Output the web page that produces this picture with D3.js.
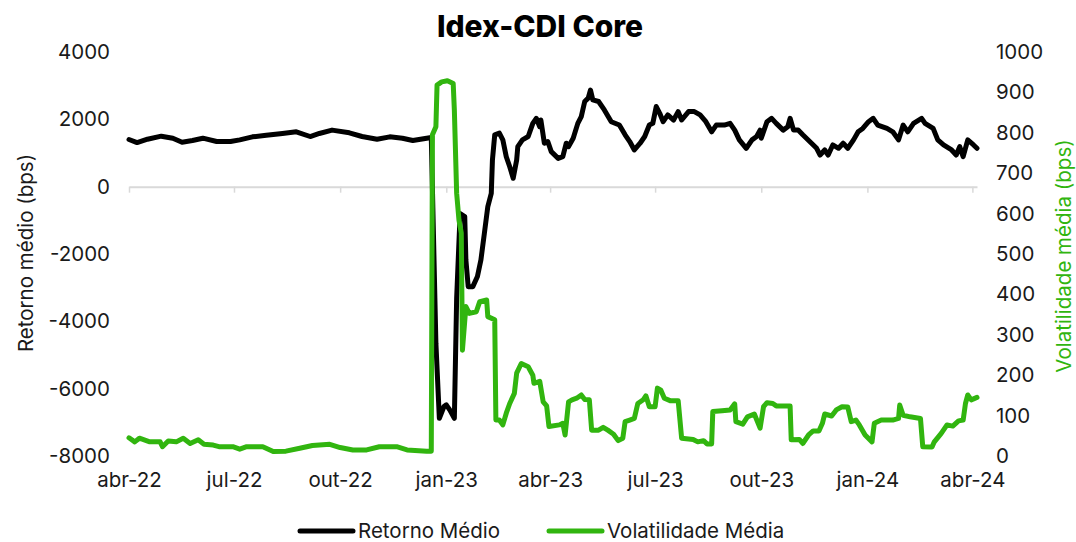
<!DOCTYPE html>
<html>
<head>
<meta charset="utf-8">
<script src="https://cdn.jsdelivr.net/npm/d3@7"></script>
<style>
  body { margin: 0; background: #fff; }
  text { font-family: Inter, 'Open Sans', sans-serif; }
</style>
</head>
<body>
<div id="chart"></div>
<script>
// Retorno Médio (bps) - eixo esquerdo
const retornoDates = [
  '2022-04-01','2022-04-08','2022-04-17','2022-04-29','2022-05-09','2022-05-17','2022-05-26','2022-06-04',
  '2022-06-16','2022-06-28','2022-07-06','2022-07-17','2022-07-29','2022-08-12','2022-08-24','2022-09-05',
  '2022-09-13','2022-09-24','2022-10-09','2022-10-20','2022-11-02','2022-11-13','2022-11-24','2022-12-03',
  '2022-12-15','2022-12-19','2022-12-23','2022-12-26','2022-12-30','2023-01-01','2023-01-04','2023-01-08',
  '2023-01-10','2023-01-13','2023-01-17','2023-01-18','2023-01-20','2023-01-24','2023-01-28','2023-01-31',
  '2023-02-03','2023-02-06','2023-02-09','2023-02-10','2023-02-12','2023-02-16','2023-02-19','2023-02-22',
  '2023-02-25','2023-02-28','2023-03-03','2023-03-04','2023-03-08','2023-03-13','2023-03-17','2023-03-20',
  '2023-03-23','2023-03-24','2023-03-27','2023-03-30','2023-04-02','2023-04-08','2023-04-12','2023-04-15',
  '2023-04-17','2023-04-21','2023-04-25','2023-04-28','2023-05-01','2023-05-04','2023-05-06','2023-05-08',
  '2023-05-13','2023-05-18','2023-05-24','2023-05-31','2023-06-05','2023-06-09','2023-06-13','2023-06-18',
  '2023-06-22','2023-06-26','2023-06-29','2023-07-02','2023-07-05','2023-07-08','2023-07-12','2023-07-17',
  '2023-07-21','2023-07-24','2023-07-30','2023-08-04','2023-08-09','2023-08-14','2023-08-19','2023-08-23',
  '2023-08-30','2023-09-04','2023-09-08','2023-09-12','2023-09-18','2023-09-23','2023-09-27','2023-09-30',
  '2023-10-01','2023-10-06','2023-10-10','2023-10-14','2023-10-20','2023-10-24','2023-10-26','2023-10-29',
  '2023-11-02','2023-11-06','2023-11-12','2023-11-18','2023-11-21','2023-11-25','2023-11-28','2023-12-02',
  '2023-12-07','2023-12-11','2023-12-15','2023-12-20','2023-12-24','2023-12-28','2024-01-02','2024-01-06',
  '2024-01-10','2024-01-18','2024-01-23','2024-01-28','2024-02-01','2024-02-05','2024-02-10','2024-02-17',
  '2024-02-20','2024-02-27','2024-03-02','2024-03-07','2024-03-14','2024-03-18','2024-03-21','2024-03-24',
  '2024-03-28','2024-04-02','2024-04-05'
];
const retornoValues = [
  1400, 1310, 1410, 1500, 1440, 1320, 1370, 1440,
  1340, 1340, 1390, 1480, 1530, 1580, 1630, 1490,
  1580, 1680, 1600, 1490, 1410, 1480, 1440, 1370,
  1440, 1460, -4650, -6880, -6530, -6480, -6630, -6880,
  -3300, -800, -890, -2180, -2970, -2970, -2670, -2180,
  -1390, -590, -200, 790, 1540, 1590, 1390, 890,
  590, 250, 790, 1190, 1390, 1490, 1880, 2030,
  1780, 1980, 1290, 1340, 1040, 840, 890, 1290,
  1190, 1440, 1880, 2080, 2530, 2630, 2870, 2580,
  2530, 2280, 1930, 1830, 1540, 1340, 1090, 1290,
  1490, 1830, 1880, 2380, 2180, 1930, 2130, 1980,
  2230, 1980, 2230, 2230, 2130, 1930, 1630, 1830,
  1830, 1880, 1680, 1390, 1140, 1390, 1490, 1680,
  1440, 1930, 2030, 1880, 1680, 1780, 2030, 1680,
  1680, 1540, 1340, 1140, 940, 1090, 940, 1240,
  1140, 1290, 1140, 1390, 1630, 1730, 1930, 2030,
  1830, 1730, 1630, 1390, 1830, 1630, 1880, 2030,
  1880, 1730, 1390, 1240, 1090, 940, 1190, 890,
  1390, 1240, 1140
];

// Volatilidade Média (bps) - eixo direito
const volDates = [
  '2022-04-01','2022-04-06','2022-04-10','2022-04-19','2022-04-28','2022-04-30','2022-05-05','2022-05-12',
  '2022-05-18','2022-05-24','2022-05-31','2022-06-05','2022-06-13','2022-06-18','2022-06-30','2022-07-06',
  '2022-07-12','2022-07-26','2022-08-04','2022-08-15','2022-08-27','2022-09-07','2022-09-22','2022-10-01',
  '2022-10-12','2022-10-24','2022-11-04','2022-11-19','2022-11-28','2022-12-15','2022-12-19','2022-12-20',
  '2022-12-23','2022-12-24','2022-12-28','2023-01-02','2023-01-07','2023-01-08','2023-01-10','2023-01-12',
  '2023-01-14','2023-01-15','2023-01-18','2023-01-21','2023-01-27','2023-01-30','2023-02-05','2023-02-06',
  '2023-02-12','2023-02-13','2023-02-16','2023-02-19','2023-02-22','2023-02-25','2023-03-01','2023-03-03',
  '2023-03-07','2023-03-13','2023-03-17','2023-03-18','2023-03-23','2023-03-26','2023-03-29','2023-03-31',
  '2023-04-09','2023-04-12','2023-04-14','2023-04-17','2023-04-20','2023-04-24','2023-04-28','2023-05-01',
  '2023-05-05','2023-05-07','2023-05-13','2023-05-17','2023-05-21','2023-05-26','2023-05-30','2023-06-03',
  '2023-06-05','2023-06-09','2023-06-13','2023-06-16','2023-06-21','2023-06-23','2023-06-26','2023-07-01',
  '2023-07-03','2023-07-06','2023-07-09','2023-07-14','2023-07-21','2023-07-24','2023-08-03','2023-08-07',
  '2023-08-12','2023-08-15','2023-08-19','2023-08-20','2023-08-28','2023-09-04','2023-09-08','2023-09-09',
  '2023-09-15','2023-09-19','2023-09-25','2023-09-30','2023-10-03','2023-10-06','2023-10-11','2023-10-14',
  '2023-10-26','2023-10-27','2023-11-03','2023-11-06','2023-11-11','2023-11-15','2023-11-20','2023-11-23',
  '2023-11-25','2023-12-01','2023-12-05','2023-12-10','2023-12-15','2023-12-18','2023-12-22','2023-12-25',
  '2023-12-30','2024-01-05','2024-01-07','2024-01-13','2024-01-23','2024-01-28','2024-01-29','2024-02-01',
  '2024-02-07','2024-02-16','2024-02-18','2024-02-26','2024-02-28','2024-03-05','2024-03-10','2024-03-15',
  '2024-03-20','2024-03-24','2024-03-26','2024-03-28','2024-03-31','2024-04-05'
];
const volValues = [
  45, 35, 44, 35, 35, 23, 37, 35,
  44, 31, 40, 29, 27, 23, 23, 17,
  23, 23, 11, 12, 19, 26, 29, 21,
  15, 15, 23, 23, 15, 12, 12, 795,
  815, 918, 926, 929, 922, 856, 650, 584,
  552, 262, 370, 353, 357, 382, 386, 345,
  337, 89, 89, 77, 106, 130, 155, 205,
  229, 221, 200, 180, 185, 134, 124, 73,
  77, 81, 52, 134, 139, 143, 151, 140,
  139, 64, 64, 71, 64, 54, 38, 44,
  85, 89, 93, 130, 140, 149, 122, 122,
  168, 163, 143, 137, 137, 44, 41, 35,
  38, 30, 30, 110, 112, 114, 129, 85,
  79, 97, 104, 69, 122, 132, 130, 124,
  124, 40, 41, 31, 52, 62, 62, 81,
  104, 99, 114, 122, 121, 85, 89, 77,
  52, 35, 81, 89, 89, 93, 126, 101,
  97, 93, 23, 22, 35, 56, 77, 74,
  87, 89, 130, 151, 139, 145
];

const xTickDates = ['2022-04-01','2022-07-01','2022-10-01','2023-01-01','2023-04-01','2023-07-01','2023-10-01','2024-01-01','2024-04-01'];
const xTickLabels = ['abr-22','jul-22','out-22','jan-23','abr-23','jul-23','out-23','jan-24','abr-24'];
const leftTicks = [-8000, -6000, -4000, -2000, 0, 2000, 4000];
const rightTicks = [0, 100, 200, 300, 400, 500, 600, 700, 800, 900, 1000];

const width = 1076;
const height = 542;
const green = '#31b50f';
const parseDate = d3.timeParse('%Y-%m-%d');

const svg = d3.select('#chart')
    .append('svg')
    .attr('width', width)
    .attr('height', height);

const plotMargins = { top: 52, bottom: 86, left: 129, right: 99 };
const plotWidth = width - plotMargins.left - plotMargins.right;
const plotHeight = height - plotMargins.top - plotMargins.bottom;

const plotGroup = svg.append('g')
    .attr('transform', `translate(${plotMargins.left},${plotMargins.top})`);

const xScale = d3.scaleTime()
    .domain([parseDate('2022-04-01'), parseDate('2024-04-05')])
    .range([0, plotWidth]);
const yLeft = d3.scaleLinear().domain([-8000, 4000]).range([plotHeight, 0]);
const yRight = d3.scaleLinear().domain([0, 1000]).range([plotHeight, 0]);

// eixo x na linha do zero (só traços)
const tickDates = xTickDates.map(parseDate);
const zeroAxis = plotGroup.append('g')
    .attr('transform', `translate(0,${yLeft(0)})`)
    .call(d3.axisBottom(xScale).tickValues(tickDates).tickSize(6).tickSizeOuter(0).tickFormat(''));
zeroAxis.select('.domain').attr('stroke', '#d9d9d9').attr('stroke-width', 2);
zeroAxis.selectAll('.tick line').attr('stroke', '#d9d9d9').attr('stroke-width', 1.5);

// rótulos do eixo x embaixo
const labelAxis = plotGroup.append('g')
    .attr('transform', `translate(0,${plotHeight})`)
    .call(d3.axisBottom(xScale).tickValues(tickDates).tickSize(0).tickPadding(16)
        .tickFormat((d, i) => xTickLabels[i]));
labelAxis.select('.domain').remove();

const leftAxis = plotGroup.append('g')
    .call(d3.axisLeft(yLeft).tickValues(leftTicks).tickSize(0).tickPadding(19).tickFormat(d => String(d)));
leftAxis.select('.domain').remove();

const rightAxis = plotGroup.append('g')
    .attr('transform', `translate(${plotWidth},0)`)
    .call(d3.axisRight(yRight).tickValues(rightTicks).tickSize(0).tickPadding(19).tickFormat(d => String(d)));
rightAxis.select('.domain').remove();

svg.selectAll('.tick text')
    .attr('font-family', 'Inter, sans-serif')
    .attr('font-size', 20.5)
    .attr('fill', '#1a1a1a');

const retornoData = retornoDates.map((d, i) => [parseDate(d), retornoValues[i]]);
const volData = volDates.map((d, i) => [parseDate(d), volValues[i]]);

const retornoLine = d3.line()
    .x(d => xScale(d[0]))
    .y(d => yLeft(d[1]));
const volLine = d3.line()
    .x(d => xScale(d[0]))
    .y(d => yRight(d[1]));

plotGroup.append('path')
    .datum(retornoData)
    .attr('fill', 'none')
    .attr('stroke', '#000')
    .attr('stroke-width', 5)
    .attr('stroke-linejoin', 'round')
    .attr('stroke-linecap', 'round')
    .attr('d', retornoLine);

plotGroup.append('path')
    .datum(volData)
    .attr('fill', 'none')
    .attr('stroke', green)
    .attr('stroke-width', 5)
    .attr('stroke-linejoin', 'round')
    .attr('stroke-linecap', 'round')
    .attr('d', volLine);

// título
svg.append('text')
    .attr('x', 540)
    .attr('y', 37)
    .attr('text-anchor', 'middle')
    .attr('font-size', 30)
    .attr('font-weight', 800)
    .attr('fill', '#000')
    .text('Idex-CDI Core');

// títulos dos eixos
svg.append('text')
    .attr('transform', `translate(33,253) rotate(-90)`)
    .attr('text-anchor', 'middle')
    .attr('font-size', 20.5)
    .attr('fill', '#1a1a1a')
    .text('Retorno médio (bps)');

svg.append('text')
    .attr('transform', `translate(1071,256) rotate(-90)`)
    .attr('text-anchor', 'middle')
    .attr('font-size', 20.5)
    .attr('fill', green)
    .text('Volatilidade média (bps)');

// legenda
const legendItems = [
  { label: 'Retorno Médio', color: '#000', x: 300 },
  { label: 'Volatilidade Média', color: green, x: 549 }
];
const legend = svg.append('g').attr('transform', 'translate(0,531)');
legend.selectAll('line')
    .data(legendItems)
    .join('line')
    .attr('x1', d => d.x)
    .attr('x2', d => d.x + 53)
    .attr('y1', 0)
    .attr('y2', 0)
    .attr('stroke', d => d.color)
    .attr('stroke-width', 5)
    .attr('stroke-linecap', 'round');
legend.selectAll('text')
    .data(legendItems)
    .join('text')
    .attr('x', d => d.x + 58)
    .attr('y', 0)
    .attr('dy', '0.35em')
    .attr('font-size', 20.5)
    .attr('fill', '#1a1a1a')
    .text(d => d.label);
</script>
</body>
</html>
